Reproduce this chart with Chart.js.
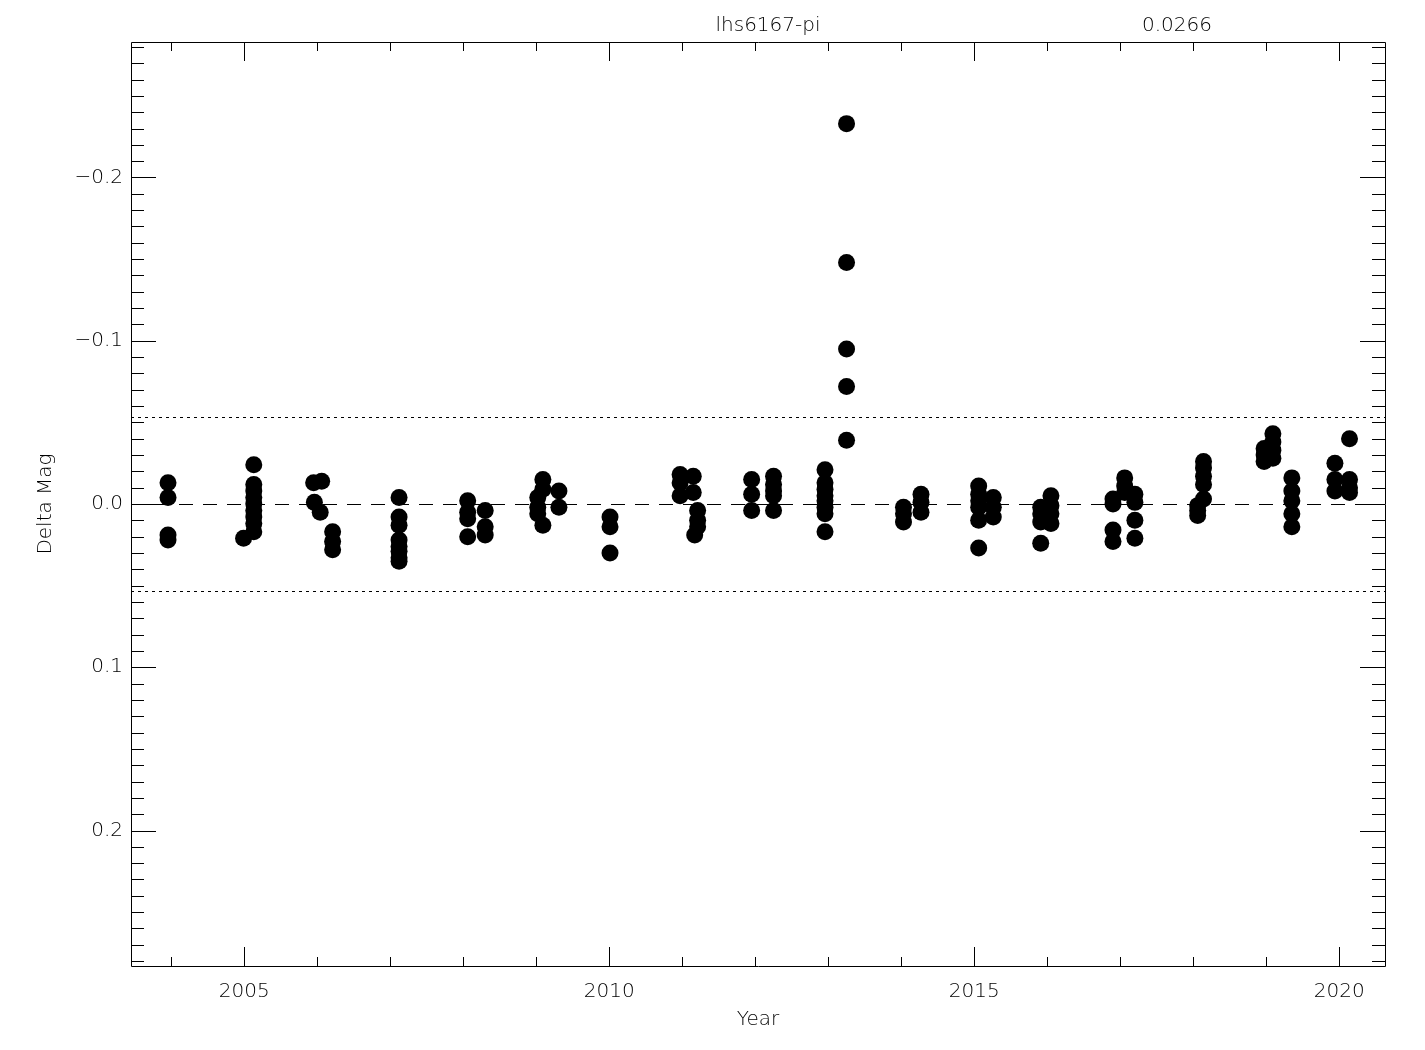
<!DOCTYPE html>
<html>
<head>
<meta charset="utf-8">
<script src="https://cdn.jsdelivr.net/npm/chart.js@4/dist/chart.umd.min.js"></script>
<style>
html,body{margin:0;padding:0;background:#fff;}
#wrap{width:1425px;height:1050px;}
</style>
</head>
<body>
<div id="wrap"><canvas id="c" width="1425" height="1050"></canvas></div>
<script>
// ---- data ----
const years = [
  2003.955,2003.955,2003.955,2003.955,
  2004.99,
  2005.13,2005.13,2005.13,2005.13,2005.13,2005.13,2005.13,2005.13,2005.13,
  2005.95,2006.06,2005.96,2006.04,
  2006.21,2006.21,2006.21,
  2007.12,2007.12,2007.12,2007.12,2007.12,2007.12,2007.12,2007.12,
  2008.06,2008.06,2008.06,2008.06,
  2008.30,2008.30,2008.30,
  2009.09,2009.09,2009.09,2009.02,2009.02,2009.02,
  2009.31,2009.31,
  2010.01,2010.01,2010.01,
  2010.97,2010.97,2010.97,
  2011.15,2011.15,2011.17,
  2011.21,2011.21,2011.21,
  2011.95,2011.95,2011.95,
  2012.25,2012.25,2012.25,2012.25,2012.25,
  2012.955,2012.955,2012.955,2012.955,2012.955,2012.955,2012.955,2012.955,
  2013.25,2013.25,2013.25,2013.25,2013.25,
  2014.03,2014.03,2014.03,
  2014.27,2014.27,2014.27,
  2015.06,2015.06,2015.06,2015.06,2015.06,2015.06,
  2015.26,2015.26,2015.26,
  2015.91,2015.91,2015.91,2015.91,
  2016.05,2016.05,2016.05,2016.05,
  2016.90,2016.90,2016.90,2016.90,
  2017.06,2017.06,2017.06,
  2017.20,2017.20,2017.20,2017.20,
  2018.06,2018.06,2018.06,
  2018.14,2018.14,2018.14,2018.14,2018.14,
  2018.97,2018.97,2018.97,
  2019.09,2019.09,2019.09,2019.09,
  2019.35,2019.35,2019.35,2019.35,2019.35,
  2019.94,2019.94,2019.94,
  2020.14,2020.14,2020.14,2020.14
];
const deltaMag = [
  -0.013,-0.004,0.019,0.022,
  0.021,
  -0.024,-0.012,-0.008,-0.004,0.000,0.004,0.008,0.012,0.017,
  -0.013,-0.014,-0.001,0.005,
  0.017,0.023,0.028,
  -0.004,0.008,0.013,0.022,0.026,0.029,0.033,0.035,
  -0.002,0.005,0.009,0.020,
  0.004,0.014,0.019,
  -0.015,-0.009,0.013,-0.004,0.002,0.006,
  -0.008,0.002,
  0.008,0.014,0.030,
  -0.018,-0.013,-0.005,
  -0.017,-0.007,0.019,
  0.004,0.010,0.014,
  -0.015,-0.006,0.004,
  -0.017,-0.012,-0.008,-0.005,0.004,
  -0.021,-0.013,-0.009,-0.005,-0.002,0.002,0.006,0.017,
  -0.233,-0.148,-0.095,-0.072,-0.039,
  0.002,0.006,0.011,
  -0.006,-0.001,0.005,
  -0.011,-0.006,-0.002,0.002,0.010,0.027,
  -0.004,0.002,0.008,
  0.002,0.006,0.011,0.024,
  -0.005,0.001,0.006,0.012,
  -0.003,0.000,0.016,0.023,
  -0.016,-0.011,-0.007,
  -0.006,-0.001,0.010,0.021,
  0.001,0.004,0.007,
  -0.026,-0.022,-0.017,-0.012,-0.003,
  -0.034,-0.030,-0.026,
  -0.043,-0.038,-0.033,-0.028,
  -0.016,-0.008,-0.002,0.006,0.014,
  -0.025,-0.015,-0.008,
  -0.040,-0.015,-0.010,-0.007
];
const xTicks = [2005, 2010, 2015, 2020];
const yTicks = [-0.2, -0.1, 0.0, 0.1, 0.2];
const sigma = 0.0266;
const refLevels = [-2 * sigma, 0, 2 * sigma];
const refDashes = [[3, 4], [14, 10], [3, 4]];
const titleText = 'lhs6167-pi';
const sigmaText = '0.0266';
const xRange = [2003.448, 2020.626];
const yRange = [-0.283, 0.283];

const FONT = '"DejaVu Sans", "Liberation Sans", sans-serif';

const points = years.map((y, i) => ({x: y, y: deltaMag[i]}));

const framePlugin = {
  id: 'frame',
  beforeDatasetsDraw(chart) {
    const {ctx, chartArea: a, scales} = chart;
    ctx.save();
    ctx.strokeStyle = '#000';
    ctx.lineWidth = 1;
    refLevels.forEach((v, i) => {
      const py = Math.round(scales.y.getPixelForValue(v)) + 0.5;
      ctx.setLineDash(refDashes[i]);
      ctx.beginPath();
      ctx.moveTo(a.left, py); ctx.lineTo(a.right, py);
      ctx.stroke();
    });
    ctx.restore();
  },
  afterDraw(chart) {
    const {ctx, chartArea: a, scales} = chart;
    const xs = scales.x, ys = scales.y;
    ctx.save();
    ctx.strokeStyle = '#000';
    ctx.lineWidth = 1;
    ctx.beginPath();
    ctx.rect(Math.round(a.left) + 0.5, Math.round(a.top) + 0.5,
             Math.round(a.right - a.left), Math.round(a.bottom - a.top));
    ctx.stroke();
    ctx.beginPath();
    for (let yr = Math.ceil(xRange[0]); yr <= Math.floor(xRange[1]); yr++) {
      const px = Math.round(xs.getPixelForValue(yr)) + 0.5;
      const len = (yr % 5 === 0) ? 19 : 9;
      ctx.moveTo(px, a.bottom); ctx.lineTo(px, a.bottom - len);
      ctx.moveTo(px, a.top); ctx.lineTo(px, a.top + len);
    }
    for (let k = Math.ceil(yRange[0] * 100); k <= Math.floor(yRange[1] * 100); k++) {
      const py = Math.round(ys.getPixelForValue(k / 100)) + 0.5;
      const len = (k % 10 === 0) ? 25 : 13;
      ctx.moveTo(a.left, py); ctx.lineTo(a.left + len, py);
      ctx.moveTo(a.right, py); ctx.lineTo(a.right - len, py);
    }
    ctx.stroke();
    ctx.fillStyle = '#000';
    ctx.font = '200 20px ' + FONT;
    ctx.textAlign = 'center';
    ctx.textBaseline = 'middle';
    ctx.fillText(titleText, 768, 26);
    ctx.fillText(sigmaText, 1177, 26);
    ctx.restore();
  }
};

new Chart(document.getElementById('c'), {
  type: 'scatter',
  data: {
    datasets: [
      {
        data: points,
        backgroundColor: '#000',
        borderWidth: 0,
        pointRadius: 8.5,
        pointHoverRadius: 8.5
      }
    ]
  },
  options: {
    responsive: false,
    animation: false,
    devicePixelRatio: 1,
    layout: {padding: {top: 42, right: 40, left: 0, bottom: 0}},
    plugins: {legend: {display: false}, tooltip: {enabled: false}},
    scales: {
      x: {
        type: 'linear',
        min: xRange[0], max: xRange[1],
        grid: {display: false, drawTicks: false},
        border: {display: false},
        afterBuildTicks: s => { s.ticks = xTicks.map(v => ({value: v})); },
        afterFit: s => { s.height = 84; },
        ticks: {
          color: '#000', padding: 14,
          font: {family: FONT, size: 20, weight: 200},
          callback: v => String(v)
        },
        title: {
          display: true, text: 'Year', color: '#000',
          font: {family: FONT, size: 20, weight: 200},
          padding: {top: 0, bottom: 18}
        }
      },
      y: {
        type: 'linear',
        reverse: true,
        min: yRange[0], max: yRange[1],
        grid: {display: false, drawTicks: false},
        border: {display: false},
        afterBuildTicks: s => { s.ticks = yTicks.map(v => ({value: v})); },
        afterFit: s => { s.width = 131; },
        ticks: {
          color: '#000', padding: 8,
          font: {family: FONT, size: 20, weight: 200},
          callback: v => {
            const t = Math.abs(v) < 1e-9 ? '0.0' : v.toFixed(1);
            return t.replace('-', '\u2212');
          }
        },
        title: {
          display: true, text: 'Delta Mag', color: '#000',
          font: {family: FONT, size: 20, weight: 200},
          padding: {top: 34, bottom: 0}
        }
      }
    }
  },
  plugins: [framePlugin]
});
</script>
</body>
</html>
